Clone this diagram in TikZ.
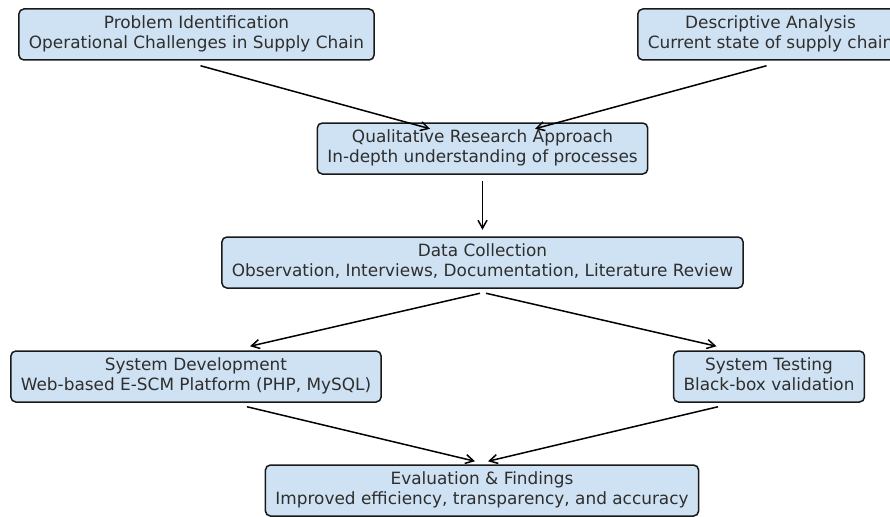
\documentclass[tikz,border=0pt]{standalone}
\usepackage{fontspec}
\setmainfont{DejaVu Sans}
\usetikzlibrary{arrows.meta,calc}
\definecolor{boxfill}{HTML}{CFE2F3}
\definecolor{txt}{HTML}{2E2E2E}
\newcommand{\lnstrut}{\rule[-4pt]{0pt}{12.8pt}}
\tikzset{
  stage/.style={draw=black!90, line width=1.5pt, fill=boxfill, rounded corners=5pt,
    text=txt, align=center, minimum height=51pt, inner xsep=10pt, inner ysep=0pt,
    font=\fontsize{16.9}{20}\selectfont},
  flow/.style={draw=black, line width=1.5pt, -{Straight Barb[length=8pt,width=9pt,line width=1.5pt]}}
}
\begin{document}
\begin{tikzpicture}[x=1pt,y=-1pt]
\useasboundingbox (0,0) rectangle (890,516);
\clip (0,0) rectangle (890,516);
\node[stage] (pi) at (196.5,34.5) {\lnstrut Problem Identification\\\lnstrut Operational Challenges in Supply Chain};
\node[stage] (da) at (770.5,34.5) {\lnstrut Descriptive Analysis\\\lnstrut Current state of supply chain};
\node[stage] (qra) at (482.5,148.5) {\lnstrut Qualitative Research Approach\\\lnstrut In-depth understanding of processes};
\node[stage] (dc) at (482.5,262.5) {\lnstrut Data Collection\\\lnstrut Observation, Interviews, Documentation, Literature Review};
\node[stage] (sd) at (196,376.5) {\lnstrut System Development\\\lnstrut Web-based E-SCM Platform (PHP, MySQL)};
\node[stage] (st) at (769,376.5) {\lnstrut System Testing\\\lnstrut Black-box validation};
\node[stage] (ef) at (482,490.5) {\lnstrut Evaluation \& Findings\\\lnstrut Improved efficiency, transparency, and accuracy};
\draw[flow] ($(pi.south)+(4,5)$) -- ($(qra.north)+(-52.5,6.5)$);
\draw[flow] ($(da.south)+(-4,5)$) -- ($(qra.north)+(52.5,6.5)$);
\draw[flow] ($(qra.south)+(0,6)$) -- ($(dc.north)+(0,-6.5)$);
\draw[flow] ($(dc.south)+(-2.5,4.5)$) -- ($(sd.north)+(54,-4)$);
\draw[flow] ($(dc.south)+(3.5,4.5)$) -- ($(st.north)+(-52.5,-4)$);
\draw[flow] ($(sd.south)+(51,4)$) -- ($(ef.north)+(-7,-3)$);
\draw[flow] ($(st.south)+(-51,4)$) -- ($(ef.north)+(6,-3)$);
\end{tikzpicture}
\end{document}
